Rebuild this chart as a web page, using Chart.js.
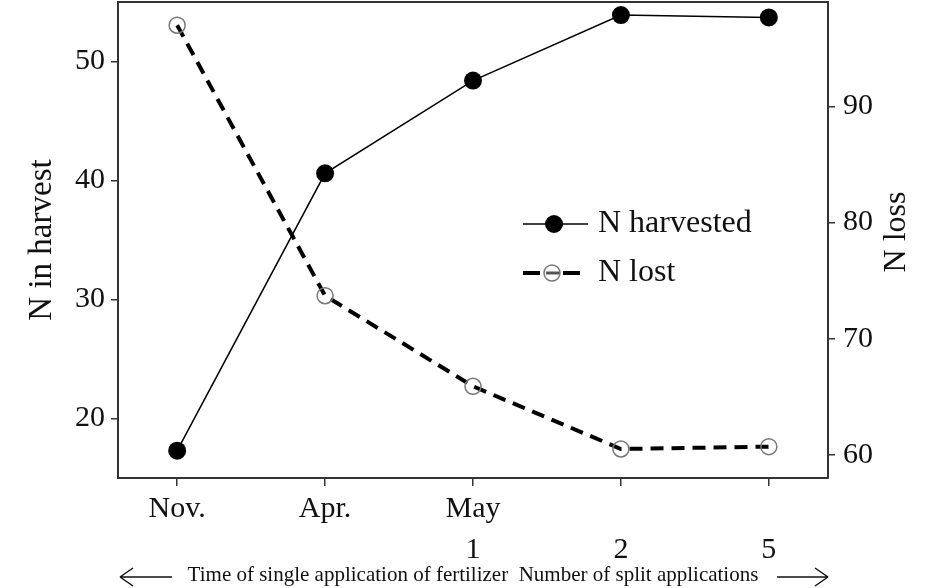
<!DOCTYPE html>
<html>
<head>
<meta charset="utf-8">
<script src="https://cdn.jsdelivr.net/npm/chart.js@4/dist/chart.umd.min.js"></script>
<style>
  html, body { margin: 0; padding: 0; background: #fff; }
  #wrap { width: 945px; height: 588px; }
</style>
</head>
<body>
<div id="wrap"><canvas id="c" width="945" height="588"></canvas></div>
<script>
// ---- data ----
const categories = [["Nov.", ""], ["Apr.", ""], ["May", "1"], ["", "2"], ["", "5"]];
const nHarvested = [17.3, 40.6, 48.4, 53.9, 53.7];
const nLost = [97.0, 73.7, 65.9, 60.5, 60.7];
const leftTicks = [20, 30, 40, 50];
const rightTicks = [60, 70, 80, 90];
const seriesNames = ["N harvested", "N lost"];
const leftTitle = "N in harvest";
const rightTitle = "N loss";
const bottomTitle = "Time of single application of fertilizer  Number of split applications";

const SERIF = "'Liberation Serif', 'Times New Roman', serif";
const INK = '#111';
const FRAME = '#333';

const framePlugin = {
  id: 'extras',
  afterDatasetsDraw(chart) {
    const ctx = chart.ctx;
    const a = chart.chartArea;
    ctx.save();
    // top border of frame
    ctx.strokeStyle = FRAME;
    ctx.lineWidth = 2;
    ctx.beginPath();
    ctx.moveTo(a.left - 1, a.top);
    ctx.lineTo(a.right + 1, a.top);
    ctx.stroke();

    // legend
    const ds = chart.data.datasets;
    const lx0 = a.left + 405, lx1 = a.left + 470, mx = a.left + 436, tx = a.left + 480;
    const rows = [a.top + 222, a.top + 271];
    // row 1
    ctx.strokeStyle = ds[0].borderColor;
    ctx.lineWidth = ds[0].borderWidth;
    ctx.setLineDash([]);
    ctx.beginPath(); ctx.moveTo(lx0, rows[0]); ctx.lineTo(lx1, rows[0]); ctx.stroke();
    ctx.fillStyle = ds[0].pointBackgroundColor;
    ctx.beginPath(); ctx.arc(mx, rows[0], ds[0].pointRadius, 0, Math.PI * 2); ctx.fill();
    // row 2
    ctx.strokeStyle = ds[1].borderColor;
    ctx.lineWidth = ds[1].borderWidth;
    ctx.beginPath(); ctx.moveTo(lx0, rows[1]); ctx.lineTo(lx0 + 17, rows[1]); ctx.stroke();
    ctx.beginPath(); ctx.moveTo(lx0 + 40, rows[1]); ctx.lineTo(lx0 + 57, rows[1]); ctx.stroke();
    ctx.beginPath(); ctx.moveTo(mx - 8, rows[1]); ctx.lineTo(mx + 6, rows[1]); ctx.lineWidth = 3; ctx.strokeStyle = '#555'; ctx.stroke();
    ctx.strokeStyle = ds[1].pointBorderColor;
    ctx.lineWidth = ds[1].pointBorderWidth;
    ctx.beginPath(); ctx.arc(mx - 2, rows[1], ds[1].pointRadius, 0, Math.PI * 2); ctx.stroke();

    ctx.fillStyle = INK;
    ctx.font = "32px " + SERIF;
    ctx.textBaseline = 'middle';
    ctx.textAlign = 'left';
    ctx.fillText(ds[0].label, tx, rows[0]);
    ctx.fillText(ds[1].label, tx, rows[1]);

    // right axis title (reads bottom to top)
    const yScale = chart.scales.y1;
    ctx.save();
    ctx.translate(yScale.right - 48, (a.top + a.bottom) / 2 - 8);
    ctx.rotate(-Math.PI / 2);
    ctx.textAlign = 'center';
    ctx.textBaseline = 'middle';
    ctx.font = "32px " + SERIF;
    ctx.fillText(rightTitle, 0, 0);
    ctx.restore();

    // arrows around bottom title
    const xs = chart.scales.x;
    const ay = xs.bottom - 11;
    ctx.strokeStyle = INK;
    ctx.lineWidth = 1.5;
    ctx.beginPath();
    ctx.moveTo(a.left + 2, ay); ctx.lineTo(a.left + 54, ay);
    ctx.moveTo(a.left + 2, ay); ctx.lineTo(a.left + 15, ay - 9);
    ctx.moveTo(a.left + 2, ay); ctx.lineTo(a.left + 15, ay + 9);
    ctx.moveTo(a.right - 51, ay); ctx.lineTo(a.right, ay);
    ctx.moveTo(a.right, ay); ctx.lineTo(a.right - 13, ay - 9);
    ctx.moveTo(a.right, ay); ctx.lineTo(a.right - 13, ay + 9);
    ctx.stroke();
    ctx.restore();
  }
};

new Chart(document.getElementById('c'), {
  type: 'line',
  data: {
    datasets: [
      {
        label: seriesNames[0],
        data: nHarvested.map((v, i) => ({ x: i, y: v })),
        yAxisID: 'y',
        borderColor: '#000',
        borderWidth: 1.5,
        pointRadius: 9,
        pointHoverRadius: 9,
        pointBackgroundColor: '#000',
        pointBorderColor: '#000',
        pointBorderWidth: 0,
        tension: 0,
        clip: false
      },
      {
        label: seriesNames[1],
        data: nLost.map((v, i) => ({ x: i, y: v })),
        yAxisID: 'y1',
        borderColor: '#000',
        borderWidth: 4,
        borderDash: [13, 8],
        pointRadius: 8,
        pointHoverRadius: 8,
        pointBackgroundColor: 'rgba(0,0,0,0)',
        pointBorderColor: '#777',
        pointBorderWidth: 1.5,
        tension: 0,
        clip: false
      }
    ]
  },
  options: {
    responsive: false,
    animation: false,
    devicePixelRatio: 1,
    layout: { autoPadding: false, padding: { top: 2, left: 0, right: 0, bottom: 0 } },
    plugins: { legend: { display: false }, tooltip: { enabled: false } },
    scales: {
      x: {
        type: 'linear',
        min: -0.4,
        max: 4.4,
        afterBuildTicks: (s) => { s.ticks = categories.map((_, i) => ({ value: i })); },
        afterFit: (s) => { s.height = 110; s.paddingLeft = 0; s.paddingRight = 0; },
        ticks: {
          autoSkip: false,
          maxRotation: 0,
          padding: 2,
          color: INK,
          font: { family: SERIF, size: 30, lineHeight: 1.38 },
          callback: (v) => categories[v]
        },
        grid: { drawOnChartArea: false, drawTicks: true, tickLength: 8, color: FRAME, lineWidth: 1.5 },
        border: { display: true, color: FRAME, width: 2 },
        title: {
          display: true,
          text: bottomTitle,
          color: INK,
          font: { family: SERIF, size: 21 },
          padding: { top: 0, bottom: 0 }
        }
      },
      y: {
        position: 'left',
        min: 15,
        max: 55,
        afterBuildTicks: (s) => { s.ticks = leftTicks.map(v => ({ value: v })); },
        afterFit: (s) => { s.width = 118; s.paddingTop = 0; s.paddingBottom = 0; },
        ticks: { color: INK, padding: 6, font: { family: SERIF, size: 30 } },
        grid: { drawOnChartArea: false, drawTicks: true, tickLength: 7, color: FRAME, lineWidth: 1.5 },
        border: { display: true, color: FRAME, width: 2 },
        title: {
          display: true,
          text: leftTitle,
          color: INK,
          font: { family: SERIF, size: 33 },
          padding: { top: 23, bottom: 0 }
        }
      },
      y1: {
        position: 'right',
        min: 58,
        max: 99,
        afterBuildTicks: (s) => { s.ticks = rightTicks.map(v => ({ value: v })); },
        afterFit: (s) => { s.width = 117; s.paddingTop = 0; s.paddingBottom = 0; },
        ticks: { color: INK, padding: 8, font: { family: SERIF, size: 30 } },
        grid: { drawOnChartArea: false, drawTicks: true, tickLength: 7, color: FRAME, lineWidth: 1.5 },
        border: { display: true, color: FRAME, width: 2 }
      }
    }
  },
  plugins: [framePlugin]
});
</script>
</body>
</html>
